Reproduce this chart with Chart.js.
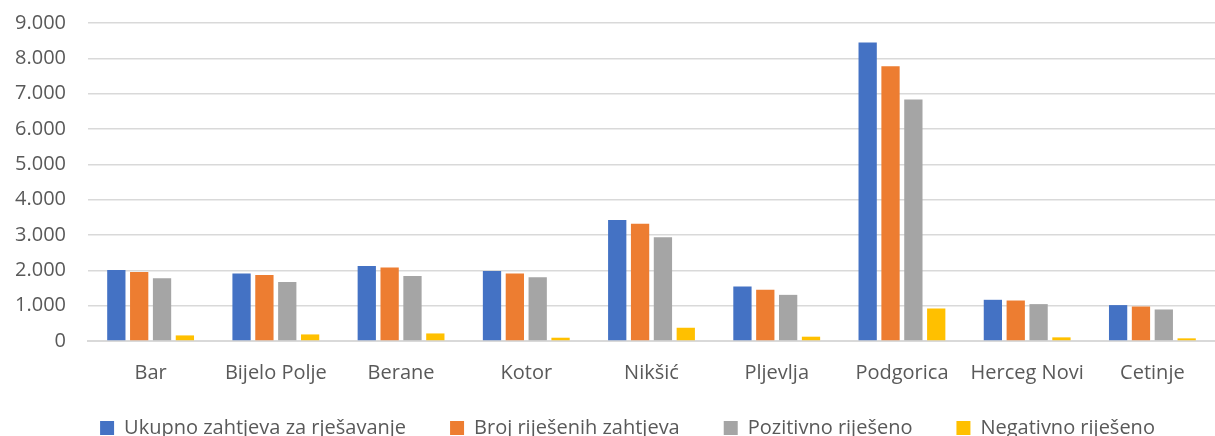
<!DOCTYPE html>
<html>
<head>
<meta charset="utf-8">
<script src="https://cdn.jsdelivr.net/npm/chart.js@4.4.0/dist/chart.umd.min.js"></script>
<style>
  html, body { margin: 0; padding: 0; background: #fff; overflow: hidden; }
  /* canvas malo iznad prozora da se poklopi sa originalom */
  #wrap { position: relative; width: 1215px; height: 457px; margin-top: -11px; }
</style>
</head>
<body>
<div id="wrap"><canvas id="grafik"></canvas></div>
<script>
// opštine
const opstine = ['Bar', 'Bijelo Polje', 'Berane', 'Kotor', 'Nikšić', 'Pljevlja', 'Podgorica', 'Herceg Novi', 'Cetinje'];

// vrijednosti po seriji
const ukupno     = [2010, 1908, 2125, 1984, 3423, 1541, 8445, 1166, 1016];
const rijeseno   = [1955, 1871, 2077, 1908, 3320, 1448, 7777, 1146, 976];
const pozitivno  = [1778, 1673, 1843, 1806, 2934, 1306, 6837, 1044, 892];
const negativno  = [158, 186, 214, 93, 375, 122, 920, 103, 75];

const nazivi = ['Ukupno zahtjeva za rješavanje', 'Broj riješenih zahtjeva', 'Pozitivno riješeno', 'Negativno riješeno'];
const boje = ['#4472C4', '#ED7D31', '#A5A5A5', '#FFC000'];

// y osa
const yMin = 0;
const yMax = 9000;
const yKorak = 1000;

const tekst = '#595959';
const font = { family: '"Open Sans", sans-serif', size: 20 };

// 9000 -> "9.000"
const formatBroj = (v) => String(v).replace(/\B(?=(\d{3})+(?!\d))/g, '.');

const serije = [ukupno, rijeseno, pozitivno, negativno];

// legenda: veliki razmak između stavki, ali bliže x osi
const POMAK_GORE = 25;
const POMAK_DESNO = 20;
const legendaPomak = {
  id: 'legendaPomak',
  beforeLayout(chart) {
    const lg = chart.legend;
    if (!lg || lg._patched) return;
    const fit = lg.fit;
    lg.fit = function () {
      fit.call(this);
      this.height -= POMAK_GORE;
    };
    lg._patched = true;
  },
  afterLayout(chart) {
    const lg = chart.legend;
    if (!lg) return;
    // samo vrh ide gore, dno ostaje (legenda se crta unutar svog okvira)
    lg.top -= POMAK_GORE - 2;
    lg.left += POMAK_DESNO;
    lg.right += POMAK_DESNO;
  }
};

new Chart(document.getElementById('grafik'), {
  type: 'bar',
  data: {
    labels: opstine,
    datasets: serije.map((s, i) => ({
      label: nazivi[i],
      data: s,
      backgroundColor: boje[i],
      borderWidth: 0,
      categoryPercentage: 0.73,
      barPercentage: 0.8,
    }))
  },
  plugins: [legendaPomak],
  options: {
    responsive: true,
    maintainAspectRatio: false,
    animation: false,
    layout: { padding: { top: 1, left: 0, right: 0, bottom: 0 } },
    plugins: {
      legend: {
        position: 'bottom',
        labels: {
          color: tekst,
          font: font,
          boxWidth: 14,
          boxHeight: 14,
          padding: 44,
        }
      },
      tooltip: { enabled: false }
    },
    scales: {
      x: {
        grid: { display: false },
        border: { color: '#D9D9D9', width: 2 },
        ticks: { color: tekst, font: font, padding: 12, maxRotation: 0 }
      },
      y: {
        min: yMin,
        max: yMax,
        grid: { color: '#D9D9D9', lineWidth: 1.5, drawTicks: false },
        border: { display: false },
        ticks: {
          stepSize: yKorak,
          color: tekst,
          font: font,
          padding: 22,
          callback: (v) => formatBroj(v)
        },
        afterFit: (scale) => { scale.width = 88; }
      }
    }
  }
});
</script>
</body>
</html>
